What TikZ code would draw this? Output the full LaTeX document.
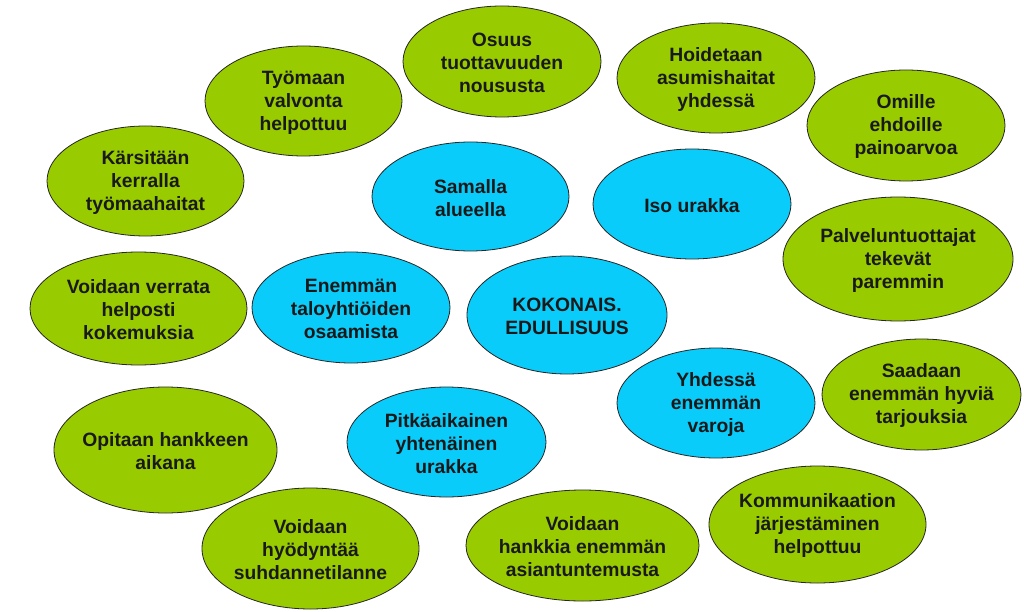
\documentclass[tikz,border=0pt]{standalone}
\usepackage{fontspec}
\setmainfont{Liberation Sans}
\usetikzlibrary{shapes.geometric}
\definecolor{leaf}{RGB}{153,204,0}
\definecolor{sky}{RGB}{10,204,250}
\tikzset{
  blob/.style={ellipse, draw=black!85, line width=0.8pt, inner sep=0pt},
  greenblob/.style={blob, fill=leaf},
  blueblob/.style={blob, fill=sky},
  txt/.style={align=center, font=\bfseries\fontsize{19.3}{23}\selectfont, text=black!90, inner sep=0pt}
}
\newcommand{\bub}[7]{%
  \node[#1, minimum width=#4pt, minimum height=#5pt] (#6) at (#2,#3) {};
  \node[txt] (#6t) at ([yshift=-1.5pt]#6.center) {#7};
}
\begin{document}
\begin{tikzpicture}[x=1pt,y=-1pt]
\useasboundingbox (0,0) rectangle (1024,612);
\fill[white] (0,0) rectangle (1024,612);
\bub{greenblob}{303.5}{101}{197}{110}{tyomaan}{Työmaan\\valvonta\\helpottuu}
\bub{greenblob}{145.5}{181}{197}{110}{karsitaan}{Kärsitään\\kerralla\\työmaahaitat}
\bub{blueblob}{470.5}{196.5}{197}{109}{samalla}{Samalla\\alueella}
\bub{greenblob}{502}{61.5}{198}{111}{osuus}{Osuus\\tuottavuuden\\noususta}
\bub{greenblob}{716}{78}{198}{110}{hoidetaan}{Hoidetaan\\asumishaitat\\yhdessä}
\bub{greenblob}{906}{125.5}{198}{111}{omille}{Omille\\ehdoille\\painoarvoa}
\bub{blueblob}{692}{204}{198}{110}{iso}{Iso urakka}
\bub{greenblob}{898}{259}{230}{124}{palvelun}{Palveluntuottajat\\tekevät\\paremmin}
\bub{greenblob}{138.5}{308.5}{217}{113}{verrata}{Voidaan verrata\\helposti\\kokemuksia}
\bub{blueblob}{351}{307.5}{198}{111}{enemman}{Enemmän\\taloyhtiöiden\\osaamista}
\bub{blueblob}{567}{315}{200}{118}{kokonais}{KOKONAIS.\\EDULLISUUS}
\bub{blueblob}{716}{403}{198}{110}{yhdessa}{Yhdessä\\enemmän\\varoja}
\bub{greenblob}{921.5}{394.5}{199}{111}{saadaan}{Saadaan\\enemmän hyviä\\tarjouksia}
\bub{greenblob}{165.5}{450}{223}{126}{opitaan}{Opitaan hankkeen\\aikana}
\bub{blueblob}{446.5}{442}{199}{110}{pitka}{Pitkäaikainen\\yhtenäinen\\urakka}
\bub{greenblob}{310.5}{548.5}{217}{121}{hyodyntaa}{Voidaan\\hyödyntää\\suhdannetilanne}
\bub{greenblob}{582.5}{545.5}{233}{111}{hankkia}{Voidaan\\hankkia enemmän\\asiantuntemusta}
\bub{greenblob}{817.5}{524.5}{217}{117}{kommunikaatio}{Kommunikaation\\järjestäminen\\helpottuu}
\end{tikzpicture}
\end{document}
